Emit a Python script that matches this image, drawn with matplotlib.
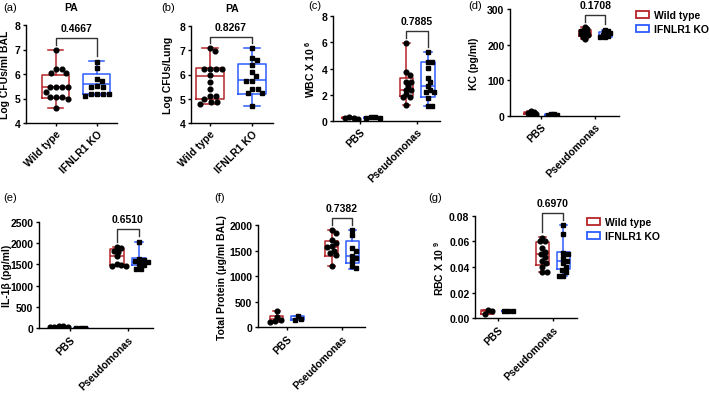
import numpy as np
import matplotlib
matplotlib.use('Agg')
import matplotlib.pyplot as plt
from matplotlib.patches import Patch

plt.rcParams['font.family'] = ['Liberation Sans', 'DejaVu Sans']
plt.rcParams['font.weight'] = 'bold'
plt.rcParams['mathtext.fontset'] = 'custom'
plt.rcParams['mathtext.rm'] = 'Liberation Sans:bold'
plt.rcParams['mathtext.bf'] = 'Liberation Sans:bold'
plt.rcParams['mathtext.default'] = 'bf'

# ---------------- data ----------------
groups = ['Wild type', 'IFNLR1 KO']
conds = ['PBS', 'Pseudomonas']

# (a) PA, BAL
a_wt = [7.0, 6.2, 6.2, 6.03, 6.03, 5.45, 5.45, 5.45, 5.45, 5.25, 5.05, 5.05, 5.05, 5.0, 4.63]
a_ko = [6.5, 6.25, 5.8, 5.7, 5.5, 5.45, 5.45, 5.2, 5.2, 5.2, 5.2, 5.12]
a_wt_box = [4.63, 5.02, 5.45, 5.97, 7.0]
a_ko_box = [5.15, 5.2, 5.58, 6.02, 6.52]
a_p = '0.4667'

# (b) PA, lung
b_wt = [7.08, 6.97, 6.24, 6.24, 6.24, 6.22, 5.96, 5.7, 5.42, 5.1, 5.1, 4.98, 4.86, 4.86, 4.8]
b_ko = [7.08, 6.7, 6.6, 6.4, 6.1, 5.92, 5.73, 5.73, 5.42, 5.42, 5.23, 5.23, 4.71]
b_wt_box = [4.8, 5.01, 5.95, 6.26, 7.08]
b_ko_box = [4.71, 5.19, 5.78, 6.42, 7.08]
b_p = '0.8267'

# (c) WBC
c_pbs_wt = [0.15, 0.22, 0.3, 0.2]
c_pbs_ko = [0.2, 0.25, 0.28, 0.22]
c_ps_wt = [5.93, 3.71, 3.5, 2.99, 2.99, 2.68, 2.37, 2.37, 2.02, 1.79, 1.79, 1.22]
c_ps_ko = [5.24, 4.47, 4.47, 4.01, 3.3, 2.99, 2.68, 2.37, 2.2, 2.2, 1.72, 1.1, 1.1]
c_pbs_wt_box = [0.15, 0.17, 0.21, 0.27, 0.3]
c_pbs_ko_box = [0.2, 0.21, 0.235, 0.27, 0.28]
c_ps_wt_box = [1.22, 1.91, 2.37, 3.31, 5.93]
c_ps_ko_box = [1.1, 1.79, 2.68, 4.47, 5.24]
c_p = '0.7885'

# (d) KC
d_pbs_wt = [3, 5, 7, 9, 12]
d_pbs_ko = [2, 3, 4, 5]
d_ps_wt = [248, 243, 240, 238, 235, 232, 230, 228, 225, 220, 215]
d_ps_ko = [242, 238, 235, 232, 229, 227, 225, 222, 220]
d_pbs_wt_box = [3, 4, 7, 10, 12]
d_pbs_ko_box = [2, 2.5, 3.5, 4.5, 5]
d_ps_wt_box = [215, 225, 232, 240, 248]
d_ps_ko_box = [218, 222, 228, 236, 242]
d_p = '0.1708'

# (e) IL-1b
e_pbs_wt = [20, 30, 45, 60, 35]
e_pbs_ko = [10, 10, 10]
e_ps_wt = [1900, 1880, 1820, 1800, 1700, 1500, 1480, 1470, 1460]
e_ps_ko = [2020, 1620, 1600, 1580, 1550, 1500, 1480, 1400, 1380]
e_pbs_wt_box = [20, 25, 35, 50, 60]
e_pbs_ko_box = [10, 10, 10, 10, 10]
e_ps_wt_box = [1460, 1475, 1700, 1860, 1900]
e_ps_ko_box = [1376, 1486, 1563, 1643, 2033]
e_p = '0.6510'

# (f) Total protein
f_pbs_wt = [320, 200, 150, 120, 110]
f_pbs_ko = [225, 165, 150]
f_ps_wt = [1900, 1850, 1700, 1650, 1580, 1570, 1500, 1450, 1420, 1200]
f_ps_ko = [1900, 1800, 1550, 1500, 1400, 1350, 1300, 1200, 1150]
f_pbs_wt_box = [110, 130, 160, 215, 320]
f_pbs_ko_box = [150, 150, 165, 225, 225]
f_ps_wt_box = [1191, 1398, 1574, 1691, 1906]
f_ps_ko_box = [1139, 1256, 1400, 1691, 1906]
f_p = '0.7382'

# (g) RBC
g_pbs_wt = [0.0035, 0.006, 0.0065]
g_pbs_ko = [0.006, 0.006, 0.006]
g_ps_wt = [0.063, 0.060, 0.060, 0.055, 0.052, 0.050, 0.048, 0.045, 0.043, 0.040, 0.036, 0.036]
g_ps_ko = [0.0727, 0.066, 0.051, 0.050, 0.047, 0.045, 0.043, 0.040, 0.038, 0.036, 0.033, 0.033]
g_pbs_wt_box = [0.0035, 0.0035, 0.006, 0.0065, 0.0065]
g_pbs_ko_box = [0.006, 0.006, 0.006, 0.006, 0.006]
g_ps_wt_box = [0.0358, 0.0418, 0.0501, 0.0597, 0.0631]
g_ps_ko_box = [0.0327, 0.0384, 0.0449, 0.0514, 0.0727]
g_p = '0.6970'

# ---------------- style ----------------
RED = '#B52428'
BLUE = '#2D5BFF'
W, H = 709, 402
FS = 7.5
fig = plt.figure(figsize=(W / 100, H / 100), dpi=100)


def add_ax(left, right, top, bottom):
    ax = fig.add_axes([left / W, 1 - bottom / H, (right - left) / W, (bottom - top) / H])
    for s in ('top', 'right'):
        ax.spines[s].set_visible(False)
    for s in ('left', 'bottom'):
        ax.spines[s].set_linewidth(1.0)
    ax.tick_params(axis='both', length=2.5, width=1.0, labelsize=FS, pad=1.5)
    return ax


def bold_ticks(ax):
    for t in ax.get_xticklabels() + ax.get_yticklabels():
        t.set_fontweight('bold')


def swarm(ax, x0, vals, diam):
    vals = np.asarray(vals, float)
    disp = ax.transData.transform(np.column_stack([np.full(len(vals), x0), vals]))
    py = disp[:, 1]
    pxu = ax.transData.transform([(1, 0)])[0, 0] - ax.transData.transform([(0, 0)])[0, 0]
    cands = [0.0]
    for j in range(1, 80):
        cands += [j * 0.5, -j * 0.5]
    placed = []
    offs = np.zeros(len(vals))
    for i in np.argsort(-py):
        for c in cands:
            if all((c - cx) ** 2 + (py[i] - cy) ** 2 >= diam ** 2 for cx, cy in placed):
                break
        placed.append((c, py[i]))
        offs[i] = c / pxu
    return x0 + offs


def box(ax, pos, b, color, w, vals, marker, diam):
    st = [dict(whislo=b[0], q1=b[1], med=b[2], q3=b[3], whishi=b[4], fliers=[])]
    lp = dict(color=color, lw=1.1)
    ax.bxp(st, positions=[pos], widths=w, capwidths=w * 0.55, showfliers=False,
           boxprops=lp, whiskerprops=lp, capprops=lp, medianprops=lp, manage_ticks=False)
    xs = swarm(ax, pos, vals, diam)
    ax.plot(xs, vals, ls='none', marker=marker, ms=3.4 if marker == 'o' else 3.2,
            color='black', mec='black', zorder=4)


def bracket(ax, x1, x2, m1, m2, rng, p):
    bar = max(m1, m2) + 0.12 * rng
    d1 = min(m1 + 0.05 * rng, bar - 0.05 * rng)
    d2 = min(m2 + 0.05 * rng, bar - 0.05 * rng)
    ax.plot([x1, x1, x2, x2], [d1, bar, bar, d2], color='#333333', lw=1.0, zorder=3,
            clip_on=False)
    ax.text((x1 + x2) / 2, bar + 0.045 * rng, p, ha='center', va='bottom', fontsize=FS,
            fontweight='bold')


def ylabel(ax, text, right_px, left_px, width_px):
    ax.set_ylabel(text, fontsize=FS, fontweight='bold')
    ax.yaxis.set_label_coords((right_px - left_px) / width_px, 0.5)


# ---------- two-group panels (a), (b) ----------
def two_panel(px, ylim, xlim, wt, ko, wtb, kob, p, lab, lab_px):
    ax = add_ax(*px)
    ax.set_xlim(*xlim)
    ax.set_ylim(*ylim)
    ax.set_yticks(np.arange(ylim[0], ylim[1] + 0.1, 1))
    ax.set_xticks([0, 1])
    ax.set_xticklabels(groups, rotation=45, ha='right', rotation_mode='anchor', fontsize=FS)
    box(ax, 0, wtb, RED, 0.66, wt, 'o', 6.0)
    box(ax, 1, kob, BLUE, 0.66, ko, 's', 6.0)
    rng = ylim[1] - ylim[0]
    bracket(ax, 0, 1, wtb[4], kob[4], rng, p)
    ax.set_title('PA', fontsize=FS, fontweight='bold', pad=11)
    ylabel(ax, lab, lab_px, px[0], px[1] - px[0])
    bold_ticks(ax)
    return ax


two_panel((26, 117, 26, 124), (4, 8), (-0.73, 1.49), a_wt, a_ko, a_wt_box, a_ko_box, a_p,
          'Log CFUs/ml BAL', 10)
two_panel((191, 273, 27, 124), (4, 8), (-0.45, 1.5), b_wt, b_ko, b_wt_box, b_ko_box, b_p,
          'Log CFUs/Lung', 173)


# ---------- grouped panels ----------
def grouped(px, ylim, xlim, yticks, data, boxes, p, lab, lab_px, fmt=None, diam=4.5):
    ax = add_ax(*px)
    ax.set_xlim(*xlim)
    ax.set_ylim(*ylim)
    ax.set_yticks(yticks)
    if fmt:
        ax.set_yticklabels([fmt % t for t in yticks])
    ax.set_xticks([0, 1])
    ax.set_xticklabels(conds, rotation=45, ha='right', rotation_mode='anchor', fontsize=FS)
    off = 0.19
    w = 0.23
    for ci in range(2):
        box(ax, ci - off, boxes[ci][0], RED, w, data[ci][0], 'o', diam)
        box(ax, ci + off, boxes[ci][1], BLUE, w, data[ci][1], 's', diam)
    rng = ylim[1] - ylim[0]
    bracket(ax, 1 - off, 1 + off, boxes[1][0][4], boxes[1][1][4], rng, p)
    ylabel(ax, lab, lab_px, px[0], px[1] - px[0])
    bold_ticks(ax)
    return ax


grouped((333, 440, 17.3, 121.7), (0, 8), (-0.47, 1.40), [0, 2, 4, 6, 8],
        [[c_pbs_wt, c_pbs_ko], [c_ps_wt, c_ps_ko]],
        [[c_pbs_wt_box, c_pbs_ko_box], [c_ps_wt_box, c_ps_ko_box]], c_p,
        r'WBC X 10$^{\ 6}$', 317)
grouped((510, 619, 10, 116.7), (0, 300), (-0.57, 1.44), [0, 100, 200, 300],
        [[d_pbs_wt, d_pbs_ko], [d_ps_wt, d_ps_ko]],
        [[d_pbs_wt_box, d_pbs_ko_box], [d_ps_wt_box, d_ps_ko_box]], d_p,
        'KC (pg/ml)', 479, diam=2.8)
grouped((39, 153, 222.7, 329.3), (0, 2500), (-0.53, 1.43), [0, 500, 1000, 1500, 2000, 2500],
        [[e_pbs_wt, e_pbs_ko], [e_ps_wt, e_ps_ko]],
        [[e_pbs_wt_box, e_pbs_ko_box], [e_ps_wt_box, e_ps_ko_box]], e_p,
        'IL-1\u03b2 (pg/ml)', 12)
grouped((258, 365, 226, 328.3), (0, 2000), (-0.53, 1.42), [0, 500, 1000, 1500, 2000],
        [[f_pbs_wt, f_pbs_ko], [f_ps_wt, f_ps_ko]],
        [[f_pbs_wt_box, f_pbs_ko_box], [f_ps_wt_box, f_ps_ko_box]], f_p,
        'Total Protein (\u03bcg/ml BAL)', 227)
grouped((475, 577, 216.7, 319.3), (0, 0.08), (-0.42, 1.44), [0, 0.02, 0.04, 0.06, 0.08],
        [[g_pbs_wt, g_pbs_ko], [g_ps_wt, g_ps_ko]],
        [[g_pbs_wt_box, g_pbs_ko_box], [g_ps_wt_box, g_ps_ko_box]], g_p,
        r'RBC X 10$^{\ 9}$', 446, fmt='%.2f')

# ---------- legends ----------
handles = [Patch(facecolor='white', edgecolor=RED, lw=1.3, label=groups[0]),
           Patch(facecolor='white', edgecolor=BLUE, lw=1.3, label=groups[1])]
for (lx, ly) in [(636, 11), (587, 218)]:
    fig.legend(handles=handles, loc='upper left', bbox_to_anchor=(lx / W, 1 - ly / H),
               frameon=False, prop=dict(size=FS, weight='bold'), handlelength=1.2,
               handleheight=0.7, handletextpad=0.5, labelspacing=0.4, borderpad=0,
               borderaxespad=0)

# ---------- panel letters ----------
for t, x, y in [('(a)', 3, 8), ('(b)', 161, 8), ('(c)', 308, 6), ('(d)', 468, 6),
                ('(e)', 3, 198), ('(f)', 214, 198), ('(g)', 428, 198)]:
    fig.text(x / W, 1 - y / H, t, fontsize=8, fontweight='normal', va='center', ha='left')

fig.savefig('out.png', dpi=100)
